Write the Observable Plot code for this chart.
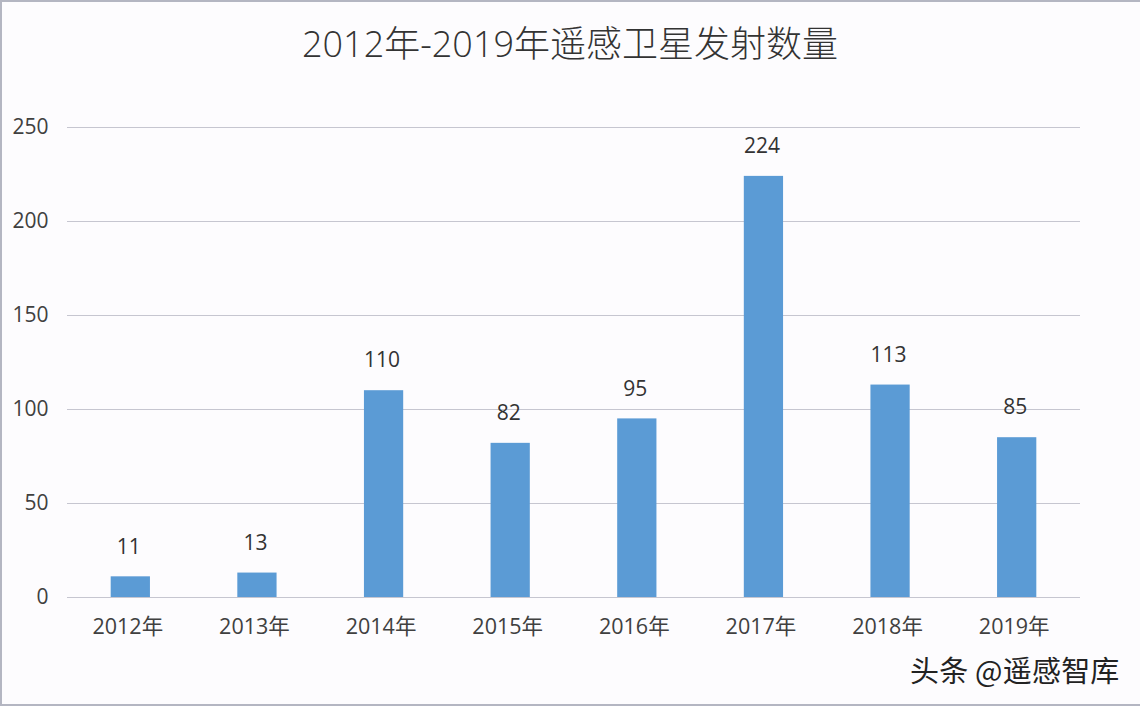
<!DOCTYPE html>
<html>
<head>
<meta charset="utf-8">
<script src="https://cdn.jsdelivr.net/npm/d3@7"></script>
<script src="https://cdn.jsdelivr.net/npm/@observablehq/plot@0.6"></script>
<style>
html,body{margin:0;padding:0;background:#fdfcfe;}
#frame{position:relative;width:1140px;height:706px;box-sizing:border-box;border-left:2px solid #b4b6c2;border-top:2px solid #b4b6c2;border-bottom:2px solid #b4b6c2;overflow:hidden;}
#title{position:absolute;left:-2px;top:-2px;width:1140px;height:88px;line-height:88px;text-align:center;font-family:"Open Sans","Noto Sans CJK SC",sans-serif;font-weight:300;font-size:36px;color:#333;}
#chart{position:absolute;left:-2px;top:84px;}
#mark{position:absolute;left:908px;top:650px;font-family:"Noto Sans CJK SC",sans-serif;font-size:29px;line-height:34px;color:#222;white-space:nowrap;letter-spacing:0.2px;}
svg{background:transparent !important;}
</style>
</head>
<body>
<div id="frame">
<div id="title">2012年-2019年遥感卫星发射数量</div>
<div id="chart"></div>
<div id="mark">头条 @遥感智库</div>
</div>
<script>
const years = ["2012年","2013年","2014年","2015年","2016年","2017年","2018年","2019年"];
const launches = [11,13,110,82,95,224,113,85];
const yTicks = [0,50,100,150,200,250];
const rows = years.map((year,i)=>({year,count:launches[i]}));
const font = '"Open Sans","Noto Sans CJK SC",sans-serif';
const chart = Plot.plot({
  width:1140,height:562,
  marginLeft:67,marginRight:60,marginTop:41,marginBottom:53,
  style:{fontFamily:font,fontSize:"20px",color:"#404040",background:"transparent",overflow:"visible"},
  x:{domain:years,paddingInner:0.69,paddingOuter:0.345,round:false,label:null},
  y:{domain:[0,250],range:[511,41],label:null},
  marks:[
    Plot.ruleY(yTicks,{stroke:"#c6c6d0",strokeWidth:1.2}),
    Plot.barY(rows,{x:"year",y:"count",fill:"#5b9bd5"}),
    Plot.text(rows,{x:"year",y:"count",text:d=>String(d.count),dy:-30,dx:-2,fontSize:21,fill:"#333"}),
    Plot.axisY({ticks:yTicks,tickSize:0,tickPadding:0,anchor:"left",dx:-19,fontSize:21,fill:"#404040",label:null}),
    Plot.axisX({tickSize:0,tickPadding:0,dy:23,dx:-3,fontSize:21.5,fill:"#404040",label:null})
  ]
});
document.getElementById("chart").appendChild(chart);
</script>
</body>
</html>
